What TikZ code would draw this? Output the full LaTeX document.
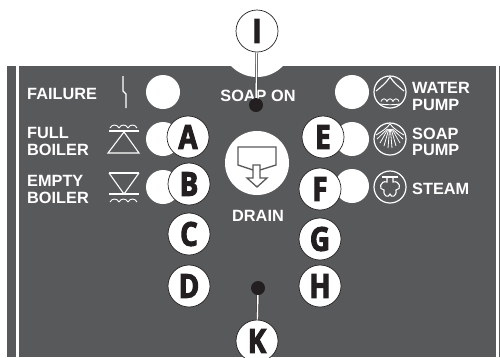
\documentclass[tikz,border=0pt]{standalone}
\usepackage{fontspec}
\setmainfont{Liberation Sans}
\newfontfamily\calloutfont[FakeBold=3,FakeStretch=0.84]{Open Sans}
\definecolor{panelgray}{HTML}{58595B}
\definecolor{inkblack}{HTML}{231F20}
\tikzset{
    lamp/.style={circle, fill=white, inner sep=0pt, minimum size=34pt},
    callout/.style={circle, draw=inkblack, line width=0.7pt, fill=white, inner sep=0pt, minimum size=42pt, text=inkblack, font=\calloutfont\bfseries\fontsize{33}{33}\selectfont},
    pindot/.style={circle, fill=inkblack, inner sep=0pt, minimum size=14pt},
    leader/.style={draw=inkblack, line width=0.5pt, double=white, double distance=1.6pt},
    panellabel/.style={text=white, inner sep=0pt, align=left, font=\bfseries\fontsize{16.3}{16.5}\selectfont},
    icon/.style={draw=white, line width=1.1pt},
    iconring/.style={circle, draw=white, line width=1.2pt, inner sep=0pt, minimum size=32pt}
}
\begin{document}
\begin{tikzpicture}[x=1pt, y=-1pt]
    \useasboundingbox (0,0) rectangle (500,357);
    \clip (0,0) rectangle (500,357);
    \fill[white] (0,0) rectangle (500,357);
    % panel and side strips
    \fill[panelgray] (7,66) rectangle (15.5,357);
    \fill[panelgray] (19,66) rectangle (496,357);
    \fill[panelgray] (498.5,66) rectangle (499.5,357);
    \fill[white] (257,41) circle (36);
    % lamps
    \node[lamp] (lampfail) at (163,92) {};
    \node[lamp] (lampfull) at (163,139) {};
    \node[lamp] (lampempty) at (163,187) {};
    \node[lamp] (lampwater) at (352,92) {};
    \node[lamp] (lampsoap) at (352,139) {};
    \node[lamp] (lampsteam) at (352,186) {};
    % texts
    \node[panellabel, anchor=west] (failure) at (27,93.5) {FAILURE};
    \node[panellabel, anchor=west] (full) at (27,141.5) {FULL\\BOILER};
    \node[panellabel, anchor=west] (empty) at (27,189.5) {EMPTY\\BOILER};
    \node[panellabel] (soapon) at (258,95.5) {SOAP ON};
    \node[panellabel] (drain) at (258,215.5) {DRAIN};
    \node[panellabel, anchor=west] (water) at (412,96.5) {WATER\\PUMP};
    \node[panellabel, anchor=west] (soap) at (412,142) {SOAP\\PUMP};
    \node[panellabel, anchor=west] (steam) at (412,188.5) {STEAM};
    % drain button
    \node[circle, fill=white, inner sep=0pt, minimum size=64pt] (drainbtn) at (257,163) {};
    \draw[panelgray, line width=1.3pt] (253,170) -- (238,165) -- (238,147) -- (276,147) -- (276,165) -- (260,170);
    \draw[panelgray, line width=1.3pt] (253,165) -- (253,178) -- (247,178) -- (257,187) -- (267,178) -- (260,178) -- (260,165) -- cycle;
    % failure bolt
    \draw[icon] (123,76) -- (123,91) -- (126,94) -- (126,108);
    % boiler symbols
    \draw[icon] (109,131) -- (139,131);
    \draw[icon] (124,132) -- (108,153) -- (139,153) -- cycle;
    \foreach \x in {110,119,128} {
        \draw[icon, line width=0.9pt] (\x,128) .. controls (\x+2,124) and (\x+7,124) .. (\x+9,128);
    }
    \draw[icon] (109,173) -- (139,173);
    \draw[icon] (109,173) -- (124,194) -- (139,173);
    \draw[icon] (109,194) -- (139,194);
    \foreach \x in {110,119,128} {
        \draw[icon, line width=0.9pt] (\x,202) .. controls (\x+2,198) and (\x+7,198) .. (\x+9,202);
    }
    % pump and steam symbols
    \node[iconring] (ringwater) at (390,92) {};
    \draw[icon] (376,91) .. controls (381,87) and (386,83) .. (390,77) .. controls (394,83) and (399,87) .. (404,91);
    \draw[icon, line width=0.9pt] (380,104) .. controls (386,105) and (394,105) .. (400,104);
    \foreach \x in {381,387,393} {
        \draw[icon, line width=0.9pt] (\x,101.5) .. controls (\x+1,98) and (\x+5,98) .. (\x+6,101.5);
    }
    \node[iconring] (ringsoap) at (390,139) {};
    \draw[icon, line width=0.9pt] (376,135) .. controls (381,132) and (386,129) .. (390,124) .. controls (394,129) and (399,132) .. (404,135);
    \foreach \x/\y in {-13/139,-10/143,-6/146,-2/148,2/148,6/146,10/143,13/139} {
        \draw[icon, line width=0.8pt] ({390+\x*0.2},129) -- ({390+\x},\y);
    }
    \node[iconring] (ringsteam) at (390,187) {};
    \draw[icon] (382,177) -- (398,177);
    \draw[icon] (387,177) -- (387,182) .. controls (380,180) and (378,190) .. (384,190) .. controls (383,197) and (389,198) .. (390,194) .. controls (391,198) and (397,197) .. (396,190) .. controls (402,190) and (400,180) .. (393,182) -- (393,177);
    % callouts
    \node[callout] (labelA) at (188,137) {A};
    \node[callout] (labelB) at (189,184) {B};
    \node[callout] (labelC) at (189,234) {C};
    \node[callout] (labelD) at (189,286) {D};
    \node[callout] (labelE) at (323,137) {E};
    \node[callout] (labelF) at (320,189) {F};
    \node[callout] (labelG) at (320,239) {G};
    \node[callout] (labelH) at (320,286) {H};
    \node[callout] (labelI) at (257,31) {I};
    \node[callout] (labelK) at (257,341) {K};
    \node[pindot] (dotI) at (256,105) {};
    \node[pindot] (dotK) at (258,288) {};
    \draw[leader] (labelI) -- (dotI);
    \draw[leader] (labelK) -- (dotK);
\end{tikzpicture}
\end{document}
